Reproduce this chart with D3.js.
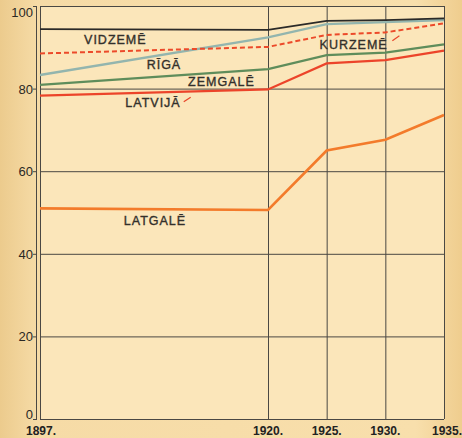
<!DOCTYPE html>
<html>
<head>
<meta charset="utf-8">
<script src="https://d3js.org/d3.v7.min.js"></script>
<style>
  html, body { margin: 0; padding: 0; background: #f4d69f; }
  svg { display: block; }
  .lbl { font-family: "Liberation Sans", Arial, sans-serif; font-size: 12.5px; letter-spacing: 1px; fill: #33302b; stroke: #33302b; stroke-width: 0.35px; }
  .tick { font-family: "Liberation Sans", Arial, sans-serif; font-size: 13px; fill: #2a2824; }
  .year { font-family: "Liberation Sans", Arial, sans-serif; font-size: 12px; font-weight: bold; fill: #222; }
</style>
</head>
<body>
<script>
// years on the x axis
var years = [1897, 1920, 1925, 1930, 1935];
var yearLabels = ["1897.", "1920.", "1925.", "1930.", "1935."];
var yTicks = [0, 20, 40, 60, 80, 100];

// percentages
var vidzeme = [94.4, 94.2, 96.4, 96.6, 97.0];
var riga    = [83.3, 92.4, 95.6, 96.1, 96.6];
var kurzeme = [88.5, 90.1, 93.0, 93.6, 95.8];
var zemgale = [80.9, 84.7, 88.1, 88.7, 90.7];
var latvija = [78.3, 79.8, 86.1, 86.9, 89.2];
var latgale = [51.0, 50.6, 65.0, 67.6, 73.6];

var series = [
  {name: "RĪGĀ",    values: riga,    color: "#93b5ae", width: 2.4, dash: null},
  {name: "VIDZEMĒ", values: vidzeme, color: "#2b2a28", width: 1.8, dash: null},
  {name: "ZEMGALĒ", values: zemgale, color: "#5f8d5b", width: 2.2, dash: null},
  {name: "KURZEMĒ", values: kurzeme, color: "#ec4a2a", width: 2.0, dash: "5,3"},
  {name: "LATVIJĀ", values: latvija, color: "#ec442a", width: 2.2, dash: null},
  {name: "LATGALĒ", values: latgale, color: "#f37b2b", width: 2.6, dash: null}
];

// label anchors in data units (year, percent)
var labels = [
  {text: "VIDZEMĒ", yr: 1904.6, v: 90.7},
  {text: "RĪGĀ",    yr: 1909.5, v: 84.7},
  {text: "ZEMGALĒ", yr: 1915.3, v: 80.6},
  {text: "LATVIJĀ", yr: 1908.4, v: 75.5},
  {text: "LATGALĒ", yr: 1908.6, v: 47.0},
  {text: "KURZEMĒ", yr: 1927.3, v: 89.6}
];

var W = 462, H = 438;
var x = d3.scaleLinear().domain([1897, 1920, 1935]).range([40, 268, 444]);
var y = d3.scaleLinear().domain([0, 100]).range([419, 6]);

var svg = d3.select("body").append("svg").attr("width", W).attr("height", H);

var defs = svg.append("defs");
var grad = defs.append("linearGradient").attr("id", "paper");
grad.append("stop").attr("offset", "0%").attr("stop-color", "#eccb8d");
grad.append("stop").attr("offset", "8%").attr("stop-color", "#f6dba6");
grad.append("stop").attr("offset", "90%").attr("stop-color", "#f8dfac");
grad.append("stop").attr("offset", "100%").attr("stop-color", "#efcd8e");
svg.append("rect").attr("width", W).attr("height", H).attr("fill", "url(#paper)");

// plot area
svg.append("rect")
  .attr("x", x(1897)).attr("y", y(100))
  .attr("width", x(1935) - x(1897)).attr("height", y(0) - y(100))
  .attr("fill", "#fbe6ba");

var grid = svg.append("g").attr("stroke", "#4a4843").attr("stroke-width", 1).attr("fill", "none");
grid.selectAll("line.h").data(yTicks).enter().append("line")
  .attr("x1", x(1897)).attr("x2", x(1935))
  .attr("y1", function(d) { return y(d) + 0.5; }).attr("y2", function(d) { return y(d) + 0.5; });
grid.selectAll("line.v").data(years).enter().append("line")
  .attr("x1", function(d) { return x(d) + 0.5; }).attr("x2", function(d) { return x(d) + 0.5; })
  .attr("y1", y(100)).attr("y2", y(0));
// double left border
grid.append("line").attr("x1", x(1897) - 3.5).attr("x2", x(1897) - 3.5).attr("y1", y(100)).attr("y2", y(0) + 1);
// small ticks
grid.selectAll("line.t").data(yTicks).enter().append("line")
  .attr("x1", x(1897) - 7).attr("x2", x(1897) - 3)
  .attr("y1", function(d) { return y(d) + 0.5; }).attr("y2", function(d) { return y(d) + 0.5; });

svg.selectAll("text.tick").data(yTicks).enter().append("text")
  .attr("class", "tick")
  .attr("x", x(1897) - 7)
  .attr("y", function(d) { return y(d) + (d === 100 ? 11 : d === 0 ? 0 : 5); })
  .attr("text-anchor", "end")
  .text(function(d) { return d; });

svg.selectAll("text.year").data(years).enter().append("text")
  .attr("class", "year")
  .attr("x", function(d, i) { return i === 0 ? 26 : (i === years.length - 1 ? W : x(d)); })
  .attr("y", 435)
  .attr("text-anchor", function(d, i) { return i === 0 ? "start" : (i === years.length - 1 ? "end" : "middle"); })
  .text(function(d, i) { return yearLabels[i]; });

var line = d3.line()
  .x(function(d, i) { return x(years[i]); })
  .y(function(d) { return y(d); });

svg.selectAll("path.s").data(series).enter().append("path")
  .attr("fill", "none")
  .attr("stroke", function(d) { return d.color; })
  .attr("stroke-width", function(d) { return d.width; })
  .attr("stroke-dasharray", function(d) { return d.dash; })
  .attr("d", function(d) { return line(d.values); });

svg.selectAll("text.lbl").data(labels).enter().append("text")
  .attr("class", "lbl")
  .attr("x", function(d) { return x(d.yr); })
  .attr("y", function(d) { return y(d.v); })
  .attr("text-anchor", "middle")
  .text(function(d) { return d.text; });

// little pointer strokes next to LATVIJĀ and KURZEMĒ
var pointers = [
  {yr0: 1911.5, v0: 76.8, yr1: 1912.2, v1: 77.9},
  {yr0: 1930.6, v0: 91.6, yr1: 1931.2, v1: 92.8}
];
svg.selectAll("line.p").data(pointers).enter().append("line")
  .attr("x1", function(d) { return x(d.yr0); }).attr("y1", function(d) { return y(d.v0); })
  .attr("x2", function(d) { return x(d.yr1); }).attr("y2", function(d) { return y(d.v1); })
  .attr("stroke", "#e8442a").attr("stroke-width", 1.2);
</script>
</body>
</html>
